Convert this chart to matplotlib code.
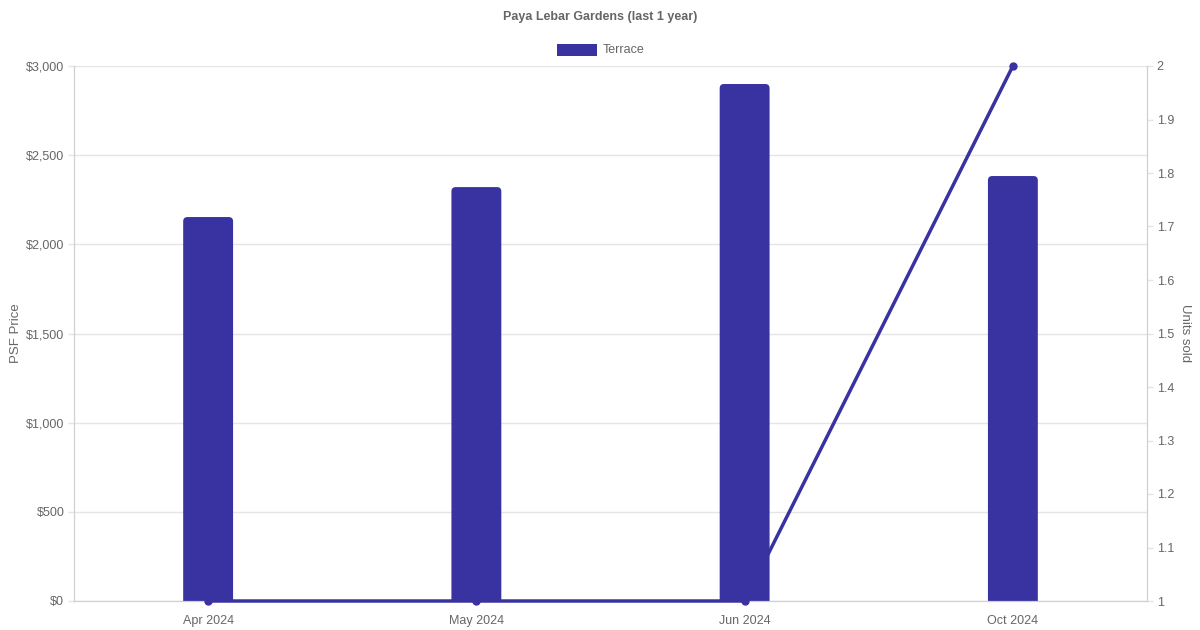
import matplotlib.pyplot as plt
from matplotlib.patches import FancyBboxPatch
from matplotlib.ticker import FuncFormatter, MultipleLocator

plt.rcParams['font.family'] = ['Liberation Sans', 'DejaVu Sans']

# data
months = ['Apr 2024', 'May 2024', 'Jun 2024', 'Oct 2024']
psf_price = [2153, 2321, 2899, 2383]
units_sold = [1, 1, 1, 2]

bar_col = '#3833a0'
txt_col = '#666666'
grid_col = '#e5e5e5'

fig = plt.figure(figsize=(12, 6.3), dpi=100)
ax = fig.add_axes([74/1200, 1 - 601/630, (1147-74)/1200, (601-66)/630])
ax2 = ax.twinx()

x = list(range(len(months)))
bw = 0.186
# px per data unit, used to keep the corner radius round
aspect = (3000/535) / (4/1073)
for xi, v in zip(x, psf_price):
    ax.add_patch(FancyBboxPatch((xi - bw/2, -200), bw, v + 200,
                                boxstyle='round,pad=0,rounding_size=0.016',
                                mutation_aspect=aspect,
                                fc=bar_col, ec='none', zorder=2))
ax.set_xlim(-0.5, 3.5)
ax.set_ylim(0, 3000)
ax.yaxis.set_major_locator(MultipleLocator(500))
ax.yaxis.set_major_formatter(FuncFormatter(lambda v, p: '${:,.0f}'.format(v)))
ax.set_xticks(x)
ax.set_xticklabels(months)
ax.grid(axis='y', color=grid_col, lw=1, zorder=0)
ax.set_ylabel('PSF Price', color=txt_col, fontsize=9.5, labelpad=3)

ax2.plot(x, units_sold, color=bar_col, lw=2.5, marker='o', ms=5,
         clip_on=False, zorder=5)
ax2.set_ylim(1, 2)
ax2.yaxis.set_major_locator(MultipleLocator(0.1))
ax2.yaxis.set_major_formatter(FuncFormatter(lambda v, p: '{:g}'.format(round(v, 1))))
ax2.set_ylabel('Units sold', color=txt_col, fontsize=9.5, rotation=270, labelpad=12)
ax.set_zorder(ax2.get_zorder() - 1)
ax.patch.set_visible(False)
ax2.patch.set_visible(False)

for a in (ax, ax2):
    for s in a.spines.values():
        s.set_color('#d0d0d0')
    a.spines['top'].set_visible(False)
    a.tick_params(colors=txt_col, labelsize=9, length=4, width=1)
    a.tick_params(axis='y', color=grid_col, pad=3)
ax.tick_params(axis='x', length=0, pad=10)

fig.text(0.5, 1 - 17/630, 'Paya Lebar Gardens (last 1 year)', ha='center', va='center',
         fontsize=9, fontweight='bold', color=txt_col)
fig.patches.append(plt.Rectangle((557/1200, 1 - 56/630), 40/1200, 12/630,
                                 transform=fig.transFigure, fc=bar_col, ec='none'))
fig.text(603/1200, 1 - 50/630, 'Terrace', ha='left', va='center', fontsize=9, color=txt_col)

fig.savefig('out.png', dpi=100)
